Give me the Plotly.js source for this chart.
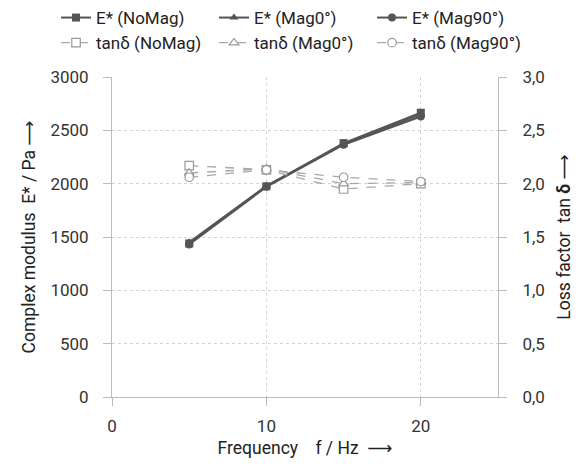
<!DOCTYPE html>
<html><head><meta charset="utf-8">
<script src="https://cdn.plot.ly/plotly-3.0.1.min.js"></script>
<style>body{margin:0;background:#fff}#c{width:578px;height:466px}</style>
</head><body><div id="c"></div>
<script>
const freq = [5, 10, 15, 20];
const eNoMag = [1440, 1975, 2380, 2665];
const eMag0 = [1450, 1980, 2370, 2650];
const eMag90 = [1430, 1970, 2365, 2630];
const tanNoMag = [2.17, 2.13, 1.95, 2.00];
const tanMag0 = [2.10, 2.14, 2.00, 2.01];
const tanMag90 = [2.06, 2.13, 2.06, 2.02];
const names = ["E* (NoMag)", "E* (Mag0°)", "E* (Mag90°)", "tanδ (NoMag)", "tanδ (Mag0°)", "tanδ (Mag90°)"];

const F = "Roboto, 'DejaVu Sans', sans-serif";
const dark = "#555555", light = "#a8a8a8";
function eTrace(y, name, sym) {
  return {x: freq, y: y, name: name, type: "scatter", mode: "lines+markers",
    line: {color: dark, width: 2}, marker: {symbol: sym, size: 8, color: dark}};
}
function tTrace(y, name, sym) {
  return {x: freq, y: y, name: name, type: "scatter", mode: "lines+markers", yaxis: "y2",
    line: {color: light, width: 1.3, dash: "dash"},
    marker: {symbol: sym, size: 8.5, color: "#fff", line: {color: "#999", width: 1.2}}};
}
const data = [
  eTrace(eNoMag, names[0], "square"),
  eTrace(eMag0, names[1], "triangle-up"),
  eTrace(eMag90, names[2], "circle"),
  tTrace(tanNoMag, names[3], "square"),
  tTrace(tanMag0, names[4], "triangle-up"),
  tTrace(tanMag90, names[5], "circle")
];
const axCommon = {showline: true, linecolor: "#bbb", linewidth: 1, ticks: "outside", ticklen: 8,
  tickcolor: "#bbb", zeroline: false, showgrid: true, gridcolor: "#d4d4d4", griddash: "dot",
  automargin: false, tickfont: {family: F, size: 17, color: "#333"}};
const layout = {
  width: 578, height: 466,
  margin: {l: 112, r: 80, t: 77, b: 69, autoexpand: false},
  paper_bgcolor: "#fff", plot_bgcolor: "#fff",
  separators: ",.",
  font: {family: F, size: 17, color: "#222"},
  showlegend: true,
  legend: {orientation: "h", x: -0.145, xanchor: "left", y: 1.05, yanchor: "bottom",
    entrywidth: 113, entrywidthmode: "pixels", itemwidth: 30, tracegroupgap: 0,
    font: {family: F, size: 17, color: "#222"}, bgcolor: "rgba(0,0,0,0)"},
  xaxis: Object.assign({}, axCommon, {range: [0, 25], tickvals: [0, 10, 20],
    mirror: false, ticklabelstandoff: 6,
    title: {text: "Frequency    f / Hz  ⟶", font: {family: F, size: 17.5, color: "#222"}, standoff: 6}}),
  yaxis: Object.assign({}, axCommon, {range: [0, 3000], tickvals: [0, 500, 1000, 1500, 2000, 2500, 3000],
    ticklabelstandoff: 11,
    title: {text: "Complex modulus  E* / Pa ⟶", font: {family: F, size: 17.5, color: "#222"}, standoff: 10}}),
  yaxis2: Object.assign({}, axCommon, {overlaying: "y", side: "right", range: [0, 3],
    tickvals: [0, 0.5, 1, 1.5, 2, 2.5, 3], tickformat: ".1f", showgrid: false, ticklabelstandoff: 12,
    title: {text: "Loss factor  tan <b>δ</b> ⟶", font: {family: F, size: 17.5, color: "#222"}, standoff: 13}})
};
Plotly.newPlot("c", data, layout, {displayModeBar: false, staticPlot: true});
</script></body></html>
